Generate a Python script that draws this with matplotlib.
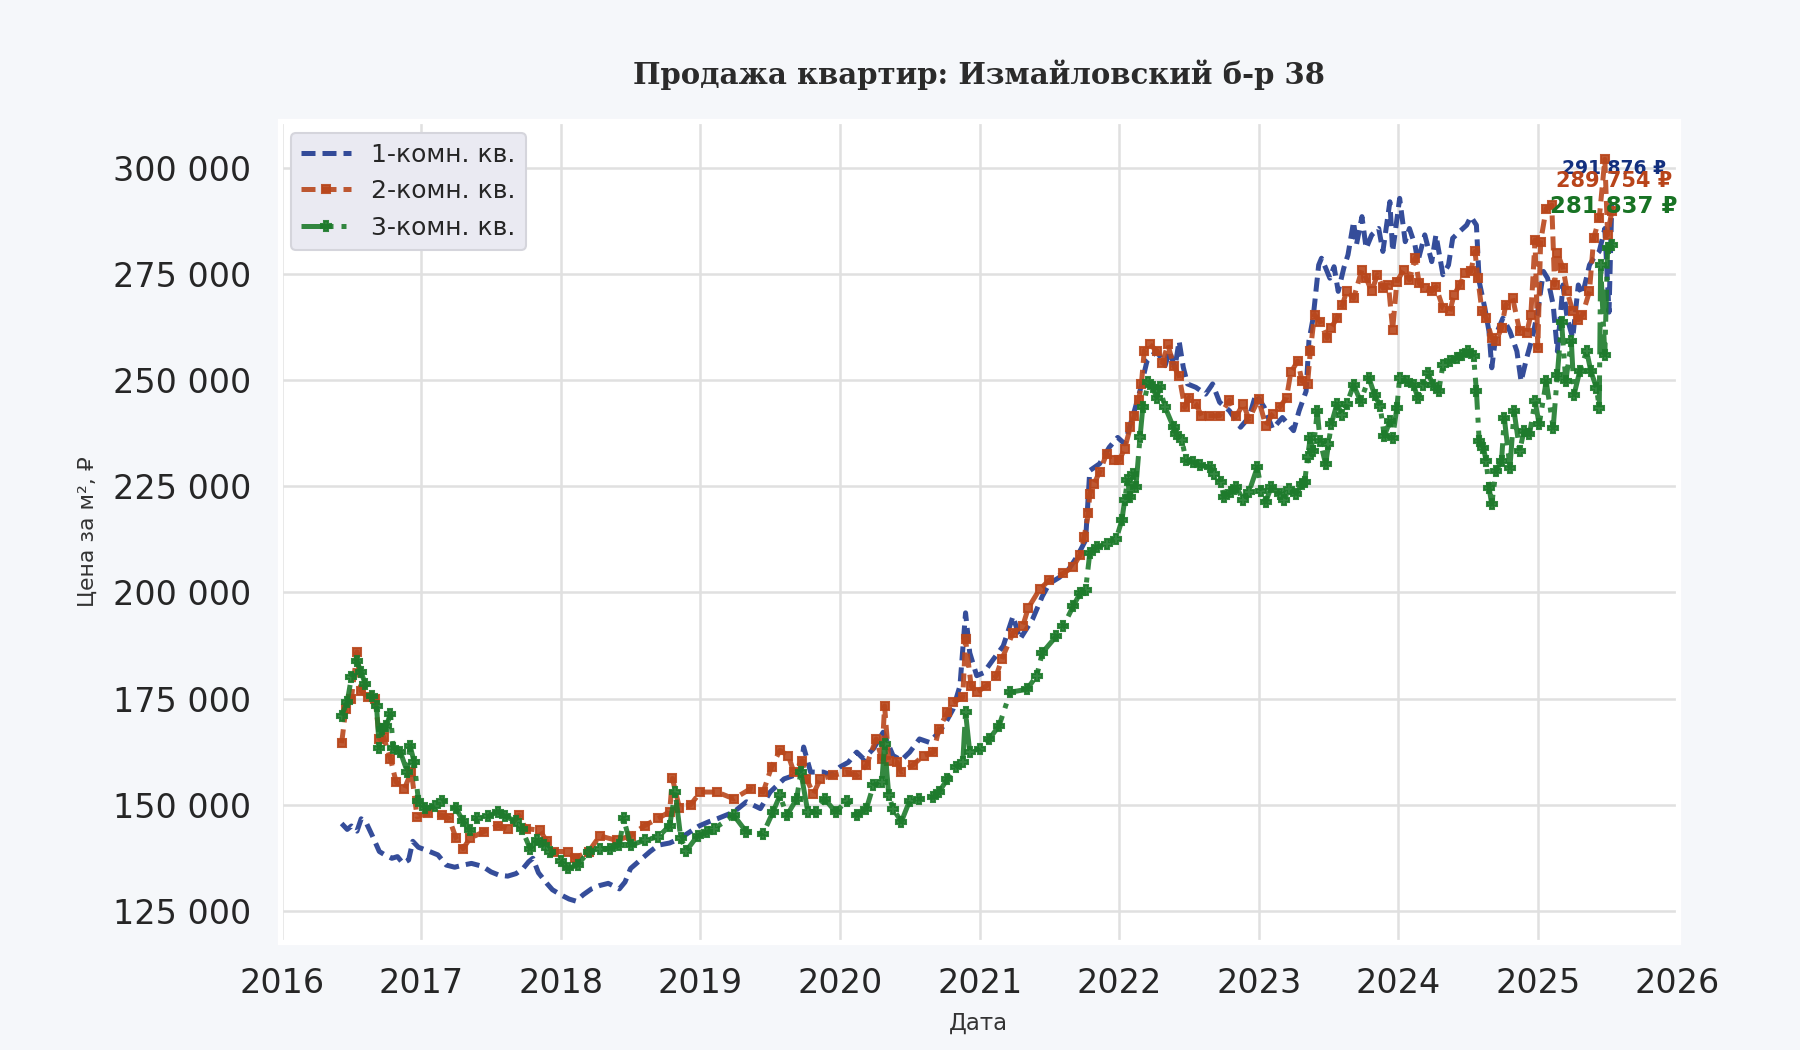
import numpy as np
import pandas as pd
import matplotlib
matplotlib.use("Agg")
import matplotlib.pyplot as plt
import matplotlib.dates as mdates
from matplotlib.ticker import FuncFormatter

# values, time as fractional year, price in rub per m2
one_room_t = [
    2016.43, 2016.47, 2016.50, 2016.54, 2016.57, 2016.61, 2016.65, 2016.70, 2016.74, 2016.79,
    2016.83, 2016.87, 2016.91, 2016.94, 2016.98, 2017.02, 2017.06, 2017.12, 2017.18, 2017.24,
    2017.30, 2017.36, 2017.44, 2017.50, 2017.56, 2017.62, 2017.68, 2017.73, 2017.77, 2017.80,
    2017.84, 2017.90, 2017.94, 2018.00, 2018.06, 2018.11, 2018.16, 2018.22, 2018.28, 2018.34,
    2018.42, 2018.46, 2018.50, 2018.57, 2018.64, 2018.70, 2018.78, 2018.85, 2018.92, 2018.99,
    2019.06, 2019.12, 2019.24, 2019.33, 2019.43, 2019.50, 2019.60, 2019.67, 2019.72, 2019.74,
    2019.79, 2019.88, 2019.94, 2020.00, 2020.06, 2020.12, 2020.17, 2020.24, 2020.31, 2020.38,
    2020.44, 2020.50, 2020.57, 2020.64, 2020.71, 2020.76, 2020.81, 2020.86, 2020.90, 2020.93,
    2020.98, 2021.03, 2021.10, 2021.17, 2021.24, 2021.29, 2021.38, 2021.45, 2021.50, 2021.57,
    2021.64, 2021.70, 2021.76, 2021.79, 2021.86, 2021.93, 2021.99, 2022.04, 2022.11, 2022.15,
    2022.20, 2022.27, 2022.33, 2022.36, 2022.40, 2022.43, 2022.46, 2022.49, 2022.55, 2022.62,
    2022.67, 2022.72, 2022.79, 2022.87, 2022.93, 2022.98, 2023.04, 2023.10, 2023.17, 2023.25,
    2023.29, 2023.34, 2023.36, 2023.39, 2023.43, 2023.45, 2023.48, 2023.51, 2023.54, 2023.57,
    2023.61, 2023.64, 2023.68, 2023.70, 2023.74, 2023.77, 2023.81, 2023.86, 2023.89, 2023.94,
    2023.96, 2024.01, 2024.05, 2024.08, 2024.12, 2024.14, 2024.19, 2024.24, 2024.27, 2024.32,
    2024.36, 2024.39, 2024.44, 2024.49, 2024.52, 2024.56, 2024.58, 2024.62, 2024.65, 2024.67,
    2024.70, 2024.75, 2024.80, 2024.85, 2024.88, 2024.92, 2024.96, 2025.00, 2025.04, 2025.07,
    2025.11, 2025.14, 2025.18, 2025.21, 2025.25, 2025.29, 2025.32, 2025.37, 2025.40, 2025.44,
    2025.48, 2025.51, 2025.53,
]
one_room_v = [
    145600, 144200, 145000, 143800, 146700, 145500, 142700, 139000, 138200, 137400,
    137800, 136200, 137000, 141400, 140000, 139500, 139000, 138200, 135800, 135300,
    135800, 136200, 135500, 134200, 133400, 133200, 133800, 135000, 136600, 137400,
    134000, 131500, 130000, 128800, 127800, 127300, 128800, 130200, 131000, 131500,
    130200, 131800, 135000, 137000, 139000, 140500, 141000, 142000, 143500, 145000,
    146000, 146700, 148300, 150700, 149100, 153000, 156100, 156900, 158000, 163600,
    157700, 157700, 157000, 158900, 160000, 162400, 160800, 163200, 167100, 161600,
    160500, 162400, 165500, 164700, 167100, 169500, 172500, 178000, 195200, 185800,
    180400, 181100, 184300, 187400, 194400, 189000, 193700, 199100, 202100, 203500,
    205500, 208500, 212300, 228700, 230300, 234200, 236500, 235000, 242800, 247500,
    254500, 256900, 253400, 256900, 253000, 259200, 253000, 249100, 248300, 246700,
    249100, 244800, 242800, 238900, 241200, 246700, 243600, 238500, 241200, 238100,
    242800, 247400, 259200, 264600, 277100, 278700, 276400, 274000, 276700, 270900,
    276400, 279500, 287300, 281800, 288500, 281000, 284200, 285700, 280300, 292000,
    280300, 292800, 282600, 285700, 281800, 277900, 284200, 277900, 284200, 274800,
    277100, 283400, 285000, 286500, 288500, 286500, 273200, 267000, 261500, 252900,
    260700, 264600, 261500, 256800, 249700, 255200, 259900, 266200, 275600, 274000,
    267700, 256800, 272400, 264600, 259900, 272400, 270100, 277100, 278700, 280300,
    285700, 266000, 291876,
]

two_room_t = [
    2016.43, 2016.46, 2016.50, 2016.54, 2016.57, 2016.62, 2016.67, 2016.70, 2016.73, 2016.78,
    2016.82, 2016.88, 2016.93, 2016.97, 2017.05, 2017.15, 2017.20, 2017.25, 2017.30, 2017.35,
    2017.45, 2017.55, 2017.62, 2017.70, 2017.75, 2017.85, 2017.90, 2017.95, 2018.05, 2018.10,
    2018.20, 2018.28, 2018.40, 2018.50, 2018.60, 2018.70, 2018.78, 2018.80, 2018.85, 2018.93,
    2019.00, 2019.12, 2019.24, 2019.36, 2019.45, 2019.51, 2019.57, 2019.63, 2019.67, 2019.73,
    2019.76, 2019.81, 2019.86, 2019.95, 2020.05, 2020.12, 2020.19, 2020.26, 2020.30, 2020.32,
    2020.35, 2020.41, 2020.44, 2020.52, 2020.60, 2020.67, 2020.71, 2020.77, 2020.81, 2020.88,
    2020.90, 2020.94, 2020.98, 2021.05, 2021.12, 2021.16, 2021.24, 2021.31, 2021.35, 2021.43,
    2021.50, 2021.60, 2021.67, 2021.72, 2021.75, 2021.78, 2021.79, 2021.82, 2021.86, 2021.91,
    2021.96, 2022.00, 2022.04, 2022.08, 2022.11, 2022.14, 2022.16, 2022.18, 2022.22, 2022.27,
    2022.31, 2022.35, 2022.39, 2022.43, 2022.47, 2022.50, 2022.55, 2022.59, 2022.65, 2022.72,
    2022.79, 2022.84, 2022.89, 2022.93, 2023.00, 2023.05, 2023.10, 2023.15, 2023.20, 2023.23,
    2023.28, 2023.31, 2023.35, 2023.37, 2023.40, 2023.44, 2023.49, 2023.52, 2023.56, 2023.60,
    2023.63, 2023.68, 2023.74, 2023.77, 2023.81, 2023.85, 2023.89, 2023.93, 2023.96, 2023.99,
    2024.04, 2024.08, 2024.12, 2024.15, 2024.19, 2024.24, 2024.27, 2024.32, 2024.37, 2024.40,
    2024.44, 2024.48, 2024.52, 2024.55, 2024.57, 2024.60, 2024.63, 2024.67, 2024.70, 2024.74,
    2024.77, 2024.82, 2024.87, 2024.92, 2024.95, 2024.98, 2025.00, 2025.02, 2025.06, 2025.10,
    2025.12, 2025.14, 2025.18, 2025.21, 2025.25, 2025.29, 2025.32, 2025.37, 2025.40, 2025.44,
    2025.48, 2025.50, 2025.53,
]
two_room_v = [
    164500, 172600, 175000, 186000, 176800, 175300, 175000, 165600, 166000, 160800,
    155400, 153800, 157800, 147200, 148000, 147500, 146800, 142100, 139700, 142100,
    143700, 145100, 144400, 147500, 144400, 144000, 141400, 139000, 139000, 137400,
    139000, 142700, 141600, 142700, 145100, 146800, 148400, 156200, 149300, 150000,
    153000, 153000, 151400, 153800, 153000, 158900, 162800, 161600, 157700, 160400,
    156100, 152600, 156100, 156900, 157700, 156900, 159300, 165500, 160800, 173300,
    160400, 160000, 157700, 159300, 161600, 162400, 167900, 171800, 174100, 175300,
    189000, 178000, 176500, 178000, 180400, 184300, 190500, 192100, 196400, 200700,
    202900, 204500, 206000, 208800, 213100, 218600, 223300, 225600, 228300, 232600,
    231100, 231100, 233800, 238900, 241600, 245200, 249100, 256900, 258400, 256900,
    254100, 258400, 253400, 251000, 243600, 245900, 244400, 241600, 241600, 241600,
    245200, 241600, 244400, 240800, 245500, 239300, 242000, 243600, 245900, 251800,
    254500, 249800, 249000, 256800, 265400, 263800, 259900, 262300, 264600, 267700,
    270900, 269300, 276000, 274000, 270900, 274800, 271700, 272400, 261900, 273200,
    276000, 273600, 278700, 272800, 271700, 270900, 272000, 267000, 266200, 270100,
    272400, 275200, 275600, 280300, 274000, 266200, 264600, 259900, 259100, 262300,
    267700, 269300, 261500, 261100, 265400, 283000, 257600, 282600, 290400, 291200,
    272400, 279900, 276400, 270900, 266200, 264200, 265400, 270900, 283400, 288100,
    302000, 284200, 289754,
]

three_room_t = [
    2016.43, 2016.47, 2016.50, 2016.54, 2016.57, 2016.60, 2016.65, 2016.68, 2016.70, 2016.72,
    2016.75, 2016.78, 2016.80, 2016.85, 2016.90, 2016.92, 2016.95, 2016.98, 2017.03, 2017.10,
    2017.15, 2017.25, 2017.30, 2017.35, 2017.40, 2017.48, 2017.55, 2017.60, 2017.68, 2017.72,
    2017.78, 2017.83, 2017.88, 2017.92, 2018.00, 2018.05, 2018.12, 2018.20, 2018.28, 2018.35,
    2018.42, 2018.45, 2018.50, 2018.60, 2018.70, 2018.78, 2018.82, 2018.86, 2018.90, 2018.98,
    2019.05, 2019.10, 2019.24, 2019.33, 2019.45, 2019.52, 2019.57, 2019.62, 2019.69, 2019.72,
    2019.77, 2019.83, 2019.89, 2019.97, 2020.05, 2020.12, 2020.19, 2020.24, 2020.30, 2020.32,
    2020.35, 2020.38, 2020.44, 2020.50, 2020.57, 2020.67, 2020.71, 2020.77, 2020.83, 2020.88,
    2020.90, 2020.93, 2021.00, 2021.07, 2021.14, 2021.22, 2021.34, 2021.41, 2021.45, 2021.55,
    2021.60, 2021.67, 2021.72, 2021.76, 2021.79, 2021.84, 2021.91, 2021.98, 2022.02, 2022.04,
    2022.06, 2022.08, 2022.10, 2022.12, 2022.15, 2022.17, 2022.21, 2022.24, 2022.27, 2022.29,
    2022.33, 2022.39, 2022.41, 2022.45, 2022.48, 2022.53, 2022.58, 2022.65, 2022.68, 2022.73,
    2022.75, 2022.80, 2022.84, 2022.89, 2022.93, 2022.99, 2023.02, 2023.05, 2023.09, 2023.15,
    2023.18, 2023.22, 2023.27, 2023.31, 2023.33, 2023.35, 2023.37, 2023.39, 2023.42, 2023.44,
    2023.48, 2023.50, 2023.52, 2023.56, 2023.60, 2023.63, 2023.68, 2023.73, 2023.79, 2023.83,
    2023.87, 2023.90, 2023.94, 2023.96, 2023.99, 2024.01, 2024.06, 2024.11, 2024.14, 2024.18,
    2024.21, 2024.25, 2024.29, 2024.32, 2024.37, 2024.42, 2024.46, 2024.50, 2024.54, 2024.56,
    2024.58, 2024.61, 2024.63, 2024.65, 2024.67, 2024.70, 2024.74, 2024.76, 2024.80, 2024.83,
    2024.87, 2024.90, 2024.94, 2024.98, 2025.01, 2025.06, 2025.11, 2025.14, 2025.17, 2025.20,
    2025.24, 2025.26, 2025.30, 2025.35, 2025.38, 2025.42, 2025.44, 2025.45, 2025.48, 2025.50,
    2025.53,
]
three_room_v = [
    171000, 174200, 180000, 183800, 181200, 178400, 175700, 173300, 163400, 167900,
    168600, 171400, 163400, 162500, 157800, 163900, 160100, 151000, 149200, 149600,
    151000, 149200, 146100, 144000, 146800, 147300, 148400, 147300, 146100, 144400,
    139700, 141600, 140500, 139000, 136700, 135000, 135800, 139000, 139700, 139700,
    140500, 146800, 140500, 141600, 142500, 145100, 153000, 142100, 139200, 142700,
    143500, 144400, 147500, 143600, 143200, 148300, 152200, 147500, 151400, 157700,
    148300, 148300, 151400, 148300, 151000, 147500, 149100, 154600, 155300, 164300,
    152200, 149100, 146000, 151000, 151400, 151800, 153000, 156100, 158900, 160000,
    171800, 162400, 163200, 165500, 168600, 176500, 177200, 180400, 185800, 189700,
    192000, 196700, 199800, 200600, 209200, 210700, 211500, 212700, 217000, 221700,
    226400, 222500, 227900, 224800, 236500, 243600, 249500, 248300, 245900, 248300,
    243600, 238900, 237300, 235800, 231100, 230700, 229900, 229500, 227900, 226000,
    222500, 223600, 224800, 221700, 223600, 229500, 224000, 221300, 224800, 223300,
    221700, 224400, 223300, 225500, 226000, 231900, 236400, 233300, 242700, 235600,
    230200, 234900, 239600, 244300, 241900, 244300, 248900, 245000, 250500, 246600,
    243900, 236800, 240300, 236400, 243500, 250500, 249700, 248900, 245800, 248900,
    251700, 248900, 247400, 253600, 254400, 255200, 256000, 256800, 255600, 247400,
    235600, 234100, 231000, 224700, 220800, 228600, 231000, 241100, 229400, 242700,
    233300, 238000, 237200, 245000, 239600, 249700, 238800, 251300, 263800, 249700,
    259100, 246600, 252100, 256800, 252100, 248200, 243500, 277100, 256000, 281000,
    281837,
]

series_labels = ["1-комн. кв.", "2-комн. кв.", "3-комн. кв."]
series_colors = ["#1f3a8f", "#b9471c", "#1e7b2c"]
text_colors = ["#13307f", "#b8441a", "#187324"]


def to_dates(years):
    years = np.asarray(years, dtype=float)
    return pd.Timestamp("2016-01-01") + pd.to_timedelta((years - 2016) * 365.25, unit="D")


def rub(x, pos=None):
    return f"{x:,.0f}".replace(",", " ")


fig = plt.figure(figsize=(12, 7), dpi=150, facecolor="#f5f7fa")
ax = fig.add_axes([0.1556, 0.1033, 0.7764, 0.781])
ax.set_facecolor("white")
for sp in ax.spines.values():
    sp.set_color("white")
    sp.set_linewidth(2.5)
ax.grid(True, color="#e0e0e0", lw=1.2)
ax.set_axisbelow(True)

styles = [
    dict(ls=(0, (2.8, 1.4)), marker=None, ms=0),
    dict(ls=(0, (2.8, 1.4)), marker="s", ms=4),
    dict(ls="-.", marker="P", ms=4.5),
]
all_t = [one_room_t, two_room_t, three_room_t]
all_v = [one_room_v, two_room_v, three_room_v]

for t, v, lab, col, st in zip(all_t, all_v, series_labels, series_colors, styles):
    ax.plot(to_dates(t), v, color=col, lw=2.4, alpha=0.9, label=lab, **st)

# last-value labels above the end of each series
offsets = [16, 14.5, 18.5]
sizes = [9, 10, 11]
for t, v, tc, dy, fs in zip(all_t, all_v, text_colors, offsets, sizes):
    last_d = to_dates([t[-1]])[0]
    ax.annotate(rub(v[-1]) + " ₽", xy=(last_d, v[-1]), xytext=(1, dy),
                textcoords="offset points", ha="center", va="center",
                fontsize=fs, fontweight="bold", color=tc)

ax.xaxis.set_major_locator(mdates.YearLocator())
ax.xaxis.set_major_formatter(mdates.DateFormatter("%Y"))
ax.yaxis.set_major_formatter(FuncFormatter(rub))
ax.set_xlim(pd.Timestamp("2015-12-28"), pd.Timestamp("2026-01-01"))
ax.set_ylim(117800, 310900)
ax.tick_params(axis="both", length=0, labelsize=16, colors="#262626")
ax.tick_params(axis="x", pad=12)
ax.tick_params(axis="y", pad=14)

ax.set_xlabel("Дата", fontsize=11, color="#333333", labelpad=6)
ax.set_ylabel("Цена за м², ₽", fontsize=10.5, color="#333333", labelpad=7)
ax.set_title("Продажа квартир: Измайловский б-р 38", fontsize=14, fontweight="bold",
             family="DejaVu Serif", color="#2b2b2b", pad=18)

leg = ax.legend(loc="upper left", fontsize=12, facecolor="#eaeaf2", edgecolor="#d5d5dc",
                framealpha=1, borderaxespad=0.45)
for txt in leg.get_texts():
    txt.set_color("#262626")

fig.savefig("out.png", dpi=150, facecolor=fig.get_facecolor())
